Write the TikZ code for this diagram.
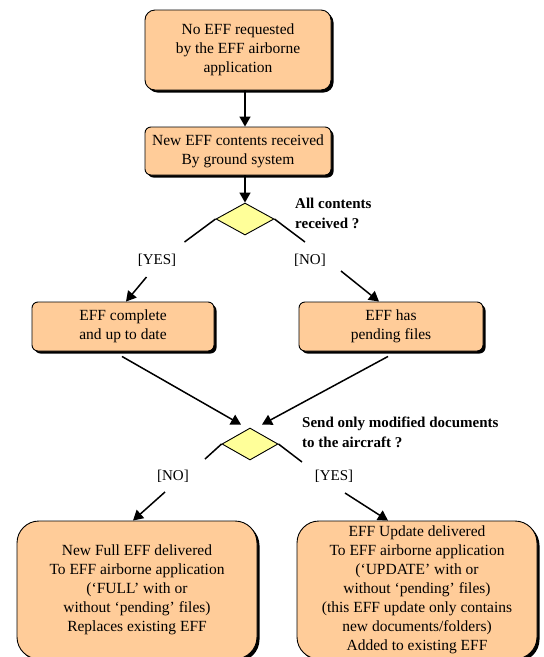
\documentclass[tikz,border=0pt]{standalone}
\usepackage{fontspec}
\setmainfont{Liberation Serif}
\usetikzlibrary{arrows.meta,shapes.geometric,shadows}

\definecolor{peach}{HTML}{FFCC99}
\definecolor{lemon}{HTML}{FFFF99}

\begin{document}
\begin{tikzpicture}[x=1pt,y=-1pt,
  state/.style={draw=black, line width=0.9pt, fill=peach, align=center, inner sep=2pt,
    font=\fontsize{15.5}{19}\selectfont,
    drop shadow={shadow xshift=2.5pt,shadow yshift=-2.5pt,opacity=1,fill=black}},
  decision/.style={diamond, draw=black, line width=0.9pt, fill=lemon,
    minimum width=58pt, minimum height=32pt, inner sep=0pt},
  question/.style={anchor=west, align=left, inner sep=0pt,
    font=\bfseries\fontsize{15}{20}\selectfont},
  guard/.style={inner sep=0pt, font=\fontsize{15}{18}\selectfont},
  link/.style={line width=1.5pt},
  flow/.style={line width=1.5pt, -{Triangle[width=11pt,length=10pt]}}]

\useasboundingbox (0,0) rectangle (544,657);

% activity states
\node[state, rounded corners=10pt, minimum width=186pt, minimum height=80pt] (b1) at (238,50)
  {No EFF requested\\by the EFF airborne\\application};
\node[state, rounded corners=6pt, minimum width=186pt, minimum height=48pt] (b2) at (238,151)
  {New EFF contents received\\By ground system};
\node[state, rounded corners=6pt, minimum width=182pt, minimum height=49pt] (b3) at (123,326.5)
  {EFF complete\\and up to date};
\node[state, rounded corners=6pt, minimum width=184pt, minimum height=49pt] (b4) at (391,326.5)
  {EFF has\\pending files};
\node[state, rounded corners=22pt, minimum width=240pt, minimum height=138pt] (b5) at (137,590)
  {New Full EFF delivered\\To EFF airborne application\\(‘FULL’ with or\\without ‘pending’ files)\\Replaces existing EFF};
\node[state, rounded corners=22pt, minimum width=240pt, minimum height=138pt] (b6) at (417,590)
  {EFF Update delivered\\To EFF airborne application\\(‘UPDATE’ with or\\without ‘pending’ files)\\(this EFF update only contains\\new documents/folders)\\Added to existing EFF};

% decisions
\node[decision] (d1) at (245,219) {};
\node[decision, minimum width=56pt] (d2) at (250,444) {};
\node[question] (q1) at (295,213) {All contents\\received ?};
\node[question] (q2) at (302,432) {Send only modified documents\\to the aircraft ?};

% guards
\node[guard] (yes1) at (157,260) {[YES]};
\node[guard] (no1) at (310,260) {[NO]};
\node[guard] (no2) at (173,476) {[NO]};
\node[guard] (yes2) at (334,476) {[YES]};

% free ends of the guarded branches
\coordinate (y1a) at (184.5,242);
\coordinate (y1b) at (146.5,277);
\coordinate (n1a) at (305,242);
\coordinate (n1b) at (341,271);
\coordinate (n2a) at (205,459);
\coordinate (n2b) at (165,492);
\coordinate (y2a) at (302,462);
\coordinate (y2b) at (345,493);

% transitions
\draw[flow] (b1.south -| d1.north) -- (b2.north -| d1.north);
\draw[flow] (b2.south -| d1.north) -- (d1.north);
\draw[link] (d1.west) -- (y1a);
\draw[flow] (y1b) -- ([xshift=3pt]b3.north);
\draw[link] (d1.east) -- (n1a);
\draw[flow] (n1b) -- ([xshift=-12pt]b4.north);
\draw[flow] ([xshift=-1pt,yshift=-5pt]b3.south) -- ([xshift=-9pt,yshift=3pt]d2.north);
\draw[flow] ([xshift=-3pt,yshift=-5pt]b4.south) -- ([xshift=12pt,yshift=3pt]d2.north);
\draw[link] (d2.west) -- (n2a);
\draw[flow] (n2b) -- ([xshift=-4pt]b5.north);
\draw[link] (d2.east) -- (y2a);
\draw[flow] (y2b) -- ([xshift=-29pt]b6.north);
\end{tikzpicture}
\end{document}
